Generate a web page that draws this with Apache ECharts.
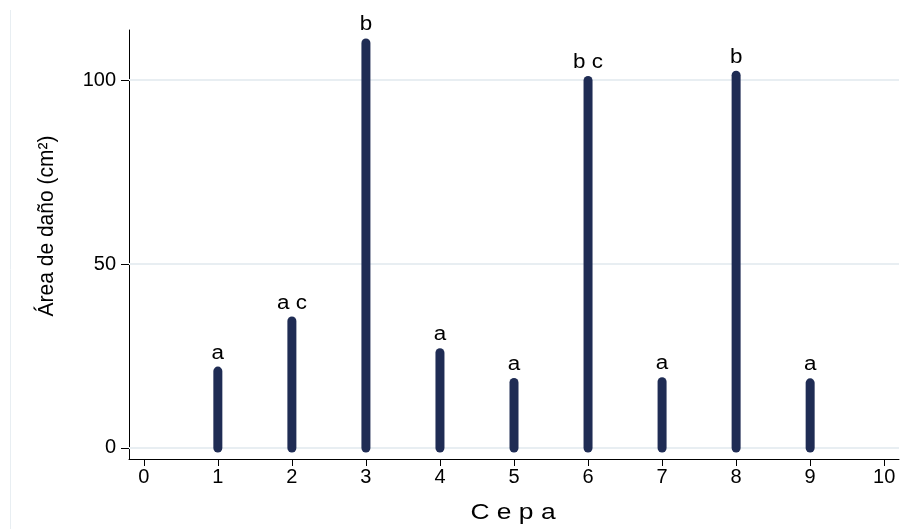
<!DOCTYPE html>
<html>
<head>
<meta charset="utf-8">
<script src="https://cdn.jsdelivr.net/npm/echarts@6/dist/echarts.min.js"></script>
<style>
  html, body { margin: 0; padding: 0; background: #ffffff; }
  #chart { width: 909px; height: 529px; }
</style>
</head>
<body>
<div id="chart"></div>
<script>
// Cepa number and damaged area (cm²) per strain
const cepas = [1, 2, 3, 4, 5, 6, 7, 8, 9];
const areaDano = [20.9, 34.5, 110.1, 25.9, 17.8, 99.9, 18.0, 101.3, 17.7];
// Significance group letters shown above each spike
const grupos = ['a', 'a c', 'b', 'a', 'a', 'b c', 'a', 'b', 'a'];
// Axis tick values
const xTicks = [0, 1, 2, 3, 4, 5, 6, 7, 8, 9, 10];
const yTicks = [0, 50, 100];

const FONT = '"Liberation Sans", Arial, Helvetica, sans-serif';
const SPIKE = '#1f2c54';
const GRID = '#e8eef2';

const chart = echarts.init(document.getElementById('chart'), null, { renderer: 'canvas' });

const seriesData = cepas.map((c, i) => [c, areaDano[i]]);

chart.setOption({
  animation: false,
  backgroundColor: '#ffffff',
  grid: { left: 129, right: 10, top: 30, bottom: 70, containLabel: false },
  xAxis: {
    type: 'value',
    min: -0.2,
    max: 10.2,
    axisLine: { show: true, onZero: false, lineStyle: { color: '#000000', width: 1 } },
    axisTick: { show: true, customValues: xTicks, length: 7, lineStyle: { color: '#000000', width: 1 } },
    axisLabel: { customValues: xTicks, color: '#000000', fontFamily: FONT, fontSize: 20, margin: 8 },
    splitLine: { show: false }
  },
  yAxis: {
    type: 'value',
    min: -3,
    max: 113.6,
    axisLine: { show: true, onZero: false, lineStyle: { color: '#000000', width: 1 } },
    axisTick: { show: true, customValues: yTicks, length: 8, lineStyle: { color: '#000000', width: 1 } },
    axisLabel: { customValues: yTicks, color: '#000000', fontFamily: FONT, fontSize: 20, margin: 13 },
    splitLine: { show: false }
  },
  graphic: [
    // faint outer frame edge on the left
    { type: 'line', shape: { x1: 10.5, y1: 10, x2: 10.5, y2: 529 }, style: { stroke: GRID, lineWidth: 1 }, silent: true },
    {
      type: 'text', x: 47, y: 226, rotation: Math.PI / 2, scaleY: 1.08,
      style: { text: 'Área de daño (cm²)', fill: '#000000', font: '21px ' + FONT, align: 'center', verticalAlign: 'middle' }
    },
    {
      type: 'text', x: 513, y: 513, scaleX: 1.2,
      style: { text: 'C e p a', fill: '#000000', font: '22px ' + FONT, align: 'center', verticalAlign: 'middle' }
    }
  ],
  series: [
    {
      // horizontal reference lines at the y tick values
      type: 'line',
      data: [],
      silent: true,
      markLine: {
        silent: true,
        symbol: 'none',
        label: { show: false },
        lineStyle: { color: GRID, width: 2, type: 'solid' },
        data: yTicks.map(v => ({ yAxis: v }))
      },
      z: 1
    },
    {
      type: 'custom',
      data: seriesData,
      z: 5,
      renderItem: function (params, api) {
        const x = api.value(0);
        const v = api.value(1);
        const top = api.coord([x, v]);
        const base = api.coord([x, 0]);
        return {
          type: 'group',
          children: [
            {
              type: 'line',
              shape: { x1: base[0], y1: base[1], x2: top[0], y2: top[1] },
              style: { stroke: SPIKE, lineWidth: 9, lineCap: 'round' }
            },
            {
              type: 'text',
              x: top[0],
              y: top[1] - 8,
              scaleX: 1.12,
              style: {
                text: grupos[params.dataIndex],
                fill: '#000000',
                font: '20px ' + FONT,
                align: 'center',
                verticalAlign: 'bottom'
              }
            }
          ]
        };
      }
    }
  ]
});
</script>
</body>
</html>
